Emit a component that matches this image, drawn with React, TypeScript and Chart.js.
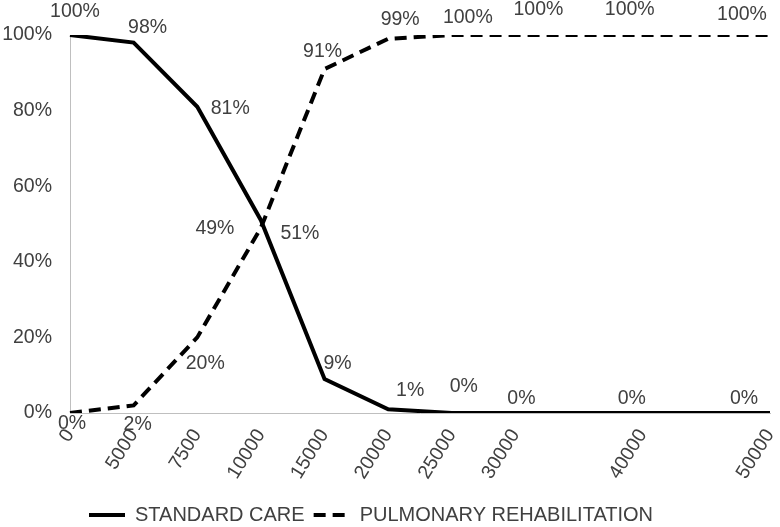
import React, { useEffect, useRef } from "react";
import { Chart, registerables } from "chart.js";

Chart.register(...registerables);

const categories = ["0", "5000", "7500", "10000", "15000", "20000", "25000", "30000", "", "40000", "", "50000"];
const standardCare = [100, 98, 81, 51, 9, 1, 0, 0, null, 0, null, 0];
const pulmonaryRehab = [0, 2, 20, 49, 91, 99, 100, 100, null, 100, null, 100];
const yTicks = [0, 20, 40, 60, 80, 100];

// label placement (pixel offsets from each point), styling only
const standardLabelOffsets = [[5, -23], [14, -15], [33, 2], [39, 13], [13, -15], [22, -19], [12, -26], [6, -14], null, [-11, -14], null, [-26, -14]];
const pulmonaryLabelOffsets = [[2, 11], [4, 19], [8, 26], [-46, 1], [-2, -17], [12, -19], [16, -17], [23, -25], null, [-13, -25], null, [-28, -20]];

const FONT = "'Liberation Sans', Arial, sans-serif";
const TEXT = "#404040";

export default function App() {
  const ref = useRef<HTMLCanvasElement | null>(null);
  useEffect(() => {
    if (!ref.current) return;
    const labelPlugin = {
      id: "pointLabels",
      beforeDraw(chart: any) {
        if (chart.legend) chart.legend.left = 80;
      },
      afterDatasetsDraw(chart: any) {
        const ctx = chart.ctx;
        ctx.save();
        ctx.font = `19.5px ${FONT}`;
        ctx.fillStyle = TEXT;
        ctx.textAlign = "center";
        ctx.textBaseline = "middle";
        const offs = [standardLabelOffsets, pulmonaryLabelOffsets];
        chart.data.datasets.forEach((ds: any, di: number) => {
          const meta = chart.getDatasetMeta(di);
          meta.data.forEach((el: any, i: number) => {
            const v = ds.data[i];
            if (v === null || v === undefined) return;
            const o = offs[di][i] || [0, -15];
            ctx.fillText(`${v}%`, el.x + o[0], el.y + o[1]);
          });
        });
        ctx.restore();
      },
    };
    const chart = new Chart(ref.current, {
      type: "line",
      data: {
        labels: categories,
        datasets: [
          {
            label: "STANDARD CARE",
            data: standardCare,
            borderColor: "#000",
            backgroundColor: "#000",
            borderWidth: 4,
            pointRadius: 0,
            pointStyle: "line",
            tension: 0,
            spanGaps: true,
          },
          {
            label: "PULMONARY REHABILITATION",
            data: pulmonaryRehab,
            borderColor: "#000",
            backgroundColor: "#000",
            borderWidth: 4,
            borderDash: [12, 7],
            pointRadius: 0,
            pointStyle: "line",
            tension: 0,
            spanGaps: true,
          },
        ],
      },
      options: {
        responsive: false,
        animation: false,
        layout: { padding: { left: 0, right: 10, top: 35, bottom: -8 } },
        plugins: {
          tooltip: { enabled: false },
          legend: {
            position: "bottom",
            align: "start",
            labels: {
              usePointStyle: true,
              pointStyleWidth: 36,
              padding: 9,
              color: TEXT,
              font: { family: FONT, size: 20 },
              generateLabels: (chart: any) =>
                chart.data.datasets.map((ds: any, i: number) => ({
                  text: ds.label,
                  fillStyle: ds.borderColor,
                  strokeStyle: ds.borderColor,
                  lineWidth: ds.borderWidth,
                  lineDash: ds.borderDash || [],
                  lineCap: "butt",
                  pointStyle: "line",
                  fontColor: TEXT,
                  hidden: false,
                  datasetIndex: i,
                })),
            },
          },
        },
        scales: {
          x: {
            type: "category",
            offset: false,
            grid: { display: false, drawTicks: false },
            border: { display: true, color: "#bfbfbf", width: 1 },
            ticks: {
              autoSkip: false,
              maxRotation: 58,
              minRotation: 58,
              padding: 12,
              color: TEXT,
              font: { family: FONT, size: 19.5 },
            },
            afterFit: (s: any) => {
              s.height = 83;
              s.paddingRight = 0;
              s.paddingLeft = 0;
            },
          },
          y: {
            min: 0,
            max: 100,
            grid: { display: false, drawTicks: false },
            border: { display: true, color: "#bfbfbf", width: 1 },
            afterBuildTicks: (s: any) => {
              s.ticks = yTicks.map((v) => ({ value: v }));
            },
            ticks: {
              padding: 18,
              color: TEXT,
              font: { family: FONT, size: 19.5 },
              callback: (v: any) => `${v}%`,
            },
            afterFit: (s: any) => {
              s.width = 70;
            },
          },
        },
      },
      plugins: [labelPlugin],
    });
    return () => chart.destroy();
  }, []);
  return (
    <div style={{ position: "absolute", left: 0, top: 0, width: 780, height: 527, background: "#fff" }}>
      <canvas ref={ref} width={780} height={527} />
    </div>
  );
}
